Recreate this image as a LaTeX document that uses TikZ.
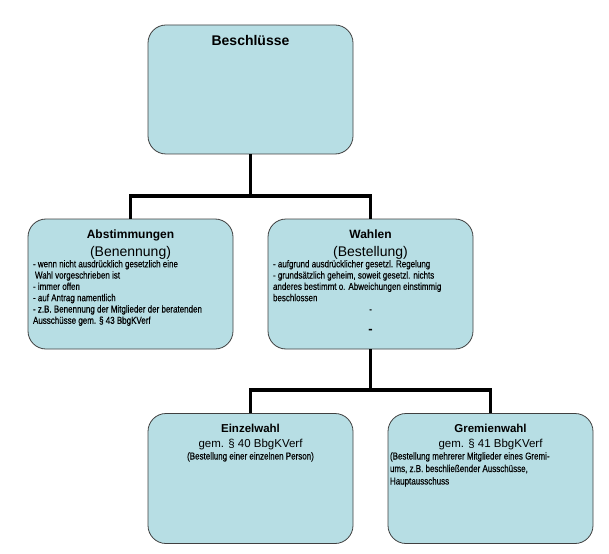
\documentclass[tikz,border=0pt]{standalone}
\usepackage{fontspec}
\setmainfont{Liberation Sans}
\newfontfamily\narrowfont[FakeStretch=0.8,FakeBold=0.3]{Liberation Sans}
\usepackage{tikz}
\definecolor{boxfill}{RGB}{183,222,228}
\definecolor{boxline}{RGB}{64,64,64}
\newcommand{\headA}{\normalfont\bfseries\fontsize{14}{17}\selectfont}
\newcommand{\headB}{\normalfont\bfseries\fontsize{12}{14}\selectfont}
\newcommand{\headC}{\normalfont\bfseries\fontsize{11.5}{14}\selectfont}
\newcommand{\subB}{\normalfont\fontsize{14}{17.7}\selectfont}
\newcommand{\subC}{\normalfont\fontsize{11.5}{14.5}\selectfont}
\newcommand{\bodyB}{\narrowfont\fontsize{10}{11.3}\selectfont}
\newcommand{\bodyC}{\narrowfont\fontsize{10}{12.5}\selectfont}
\tikzset{
	orgnode/.style = {draw=boxline, fill=boxfill, line width=0.8pt,
		rounded corners=18pt, inner xsep=5pt, inner ysep=0pt},
	org_top/.style = {orgnode},
	org_mid/.style = {orgnode},
	org_low/.style = {orgnode}
}
\begin{document}
\begin{tikzpicture}[x=1pt,y=1pt,level distance=194.5pt,sibling distance=240pt,
	edge from parent/.style={draw, line width=3.8pt, black},
	edge from parent path={(\tikzchildnode.north) -- ++(0,23) -| (\tikzparentnode.south)}]
\useasboundingbox (0,0) rectangle (609,-553);
\node [org_top] (beschluesse) at (250.5,-89.5) {\parbox[c][129pt][t]{195pt}{\centering
	\rule{0pt}{21pt}{\headA Beschlüsse\endgraf}}}
child{ node [org_mid] (abstimmungen) {\parbox[c][130pt][t]{195pt}{\centering
		\rule{0pt}{19.3pt}{\headB Abstimmungen\endgraf}
		{\subB (Benennung)\endgraf}
		\raggedright\bodyB
		- wenn nicht ausdrücklich gesetzlich eine\\
		\hspace*{2pt}Wahl vorgeschrieben ist\\
		- immer offen\\
		- auf Antrag namentlich\\
		- z.B. Benennung der Mitglieder der beratenden\\
		Ausschüsse gem. § 43 BbgKVerf\endgraf}}}
child{ node [org_mid] (wahlen) {\parbox[c][130pt][t]{195pt}{\centering
		\rule{0pt}{19.3pt}{\headB Wahlen\endgraf}
		{\subB (Bestellung)\endgraf}
		{\raggedright\bodyB
		- aufgrund ausdrücklicher gesetzl. Regelung\\
		- grundsätzlich geheim, soweit gesetzl. nichts\\
		anderes bestimmt o. Abweichungen einstimmig\\
		beschlossen\endgraf}
		{\bodyB -\endgraf}
		{\normalfont\bfseries\fontsize{13}{20.5}\selectfont -\endgraf}}}
	child{ node [org_low] (einzelwahl) {\parbox[c][130pt][t]{195pt}{\centering
			\rule{0pt}{19pt}{\headC Einzelwahl\endgraf}
			{\subC gem. § 40 BbgKVerf\endgraf}
			{\bodyC (Bestellung einer einzelnen Person)\endgraf}}}}
	child{ node [org_low] (gremienwahl) {\parbox[c][130pt][t]{195pt}{\centering
			\rule{0pt}{19pt}{\headC Gremienwahl\endgraf}
			{\subC gem. § 41 BbgKVerf\endgraf}
			\raggedright\bodyC
			\hspace*{-3pt}(Bestellung mehrerer Mitglieder eines Gremi-\\
			\hspace*{-3pt}ums, z.B. beschließender Ausschüsse,\\
			\hspace*{-3pt}Hauptausschuss\endgraf}}}
}
;
\end{tikzpicture}
\end{document}
